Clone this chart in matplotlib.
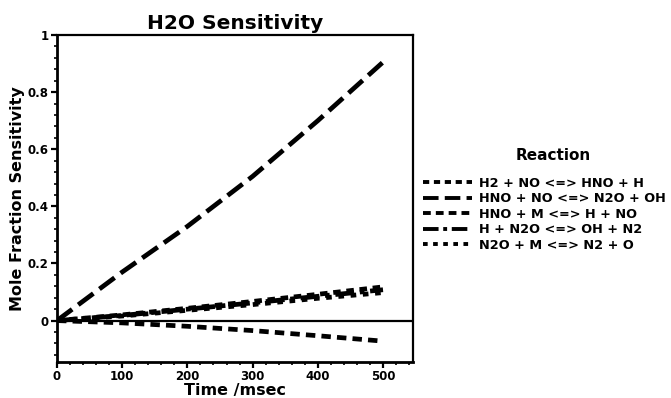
import numpy as np
import matplotlib
matplotlib.use("Agg")
import matplotlib.pyplot as plt
from matplotlib.ticker import MultipleLocator

## data
time_ms = [0, 100, 200, 300, 400, 500]
labels = ["H2 + NO <=> HNO + H",
          "HNO + NO <=> N2O + OH",
          "HNO + M <=> H + NO",
          "H + N2O <=> OH + N2",
          "N2O + M <=> N2 + O"]
h2_no    = [0, 0.020, 0.043, 0.067, 0.092, 0.118]
hno_no   = [0, 0.170, 0.330, 0.505, 0.700, 0.905]
hno_m    = [0, -0.008, -0.020, -0.035, -0.053, -0.072]
h_n2o    = [0, 0.018, 0.040, 0.062, 0.085, 0.108]
n2o_m    = [0, 0.016, 0.036, 0.056, 0.078, 0.098]
series = [h2_no, hno_no, hno_m, h_n2o, n2o_m]
dashes = [(1.6, 1.2), (4.0, 1.6), (2.0, 1.3), (4.0, 1.2, 1.0, 1.2), (1.2, 1.4)]

plt.rcParams["font.family"] = ["DejaVu Sans"]
plt.rcParams["font.weight"] = "bold"

fig = plt.figure(figsize=(6.71, 3.98), dpi=100)
ax = fig.add_axes([57/671, 1-362/398, (413-57)/671, (362-35)/398])

for y, lab, d in zip(series, labels, dashes):
    ax.plot(time_ms, y, color="black", lw=3.4, dashes=d, label=lab,
            solid_capstyle="butt", dash_capstyle="butt")

ax.axhline(0, color="black", lw=1.6)
ax.set_xlim(0, 546)
ax.set_ylim(-0.145, 1.0)

ax.xaxis.set_minor_locator(MultipleLocator(20))
ax.yaxis.set_minor_locator(MultipleLocator(0.04))
ax.set_yticks([0, 0.2, 0.4, 0.6, 0.8, 1.0])
ax.set_yticklabels(["0", "0.2", "0.4", "0.6", "0.8", "1"])
ax.set_xticks([0, 100, 200, 300, 400, 500])
ax.tick_params(which="major", direction="out", length=4, width=1.6, labelsize=8.5, pad=2)
ax.tick_params(which="minor", direction="out", length=2, width=1.2)
for sp in ax.spines.values():
    sp.set_linewidth(2.0)
ax.spines["top"].set_linewidth(1.6)
ax.spines["right"].set_linewidth(1.6)

ax.set_title("H2O Sensitivity", fontsize=14.5, fontweight="bold", pad=4)
ax.set_xlabel("Time /msec", fontsize=11.5, fontweight="bold", labelpad=0)
ax.set_ylabel("Mole Fraction Sensitivity", fontsize=11.5, fontweight="bold", labelpad=2)

# legend title placed by hand, the original has a wide gap under it
ax.text(1.393, 0.633, "Reaction", transform=ax.transAxes, ha="center", va="center",
        fontsize=11, fontweight="bold")
leg = ax.legend(loc="upper left", bbox_to_anchor=(1.028, 0.567),
                frameon=False, fontsize=9.3, handlelength=3.8, handletextpad=0.5,
                labelspacing=0.2, borderaxespad=0, borderpad=0)
for h in leg.get_lines():
    h.set_linewidth(2.8)

fig.savefig("out.png", dpi=100)
